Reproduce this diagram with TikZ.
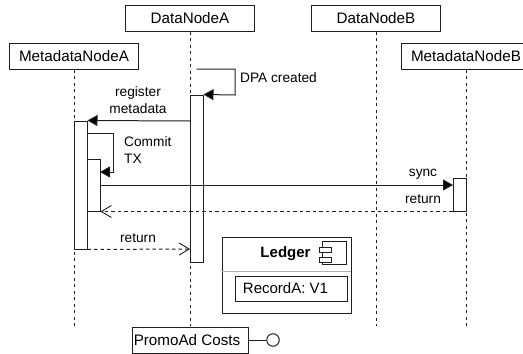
\documentclass[tikz,border=0pt]{standalone}
\usepackage{fontspec}
\setmainfont{Liberation Sans}
\usetikzlibrary{arrows.meta}
\tikzset{
 x=1pt,y=-1pt,
 line/.style={draw=black!88,line width=1pt},
 thin line/.style={draw=black!88,line width=0.8pt},
 actor/.style={line,fill=white,minimum width=129pt,minimum height=26pt,inner sep=0pt,font=\fontsize{15.2}{17}\selectfont},
 activation/.style={line,fill=white,inner sep=0pt},
 lifeline/.style={line,dash pattern=on 3pt off 3.5pt},
 msg/.style={line,-{Triangle[length=10pt,width=11pt,fill=black]}},
 ret/.style={line,dash pattern=on 3.5pt off 3pt,-{Straight Barb[length=10pt,width=12pt,line width=0.9pt]}},
 lbl/.style={inner sep=0pt,font=\fontsize{13.7}{17}\selectfont,align=center},
 lbll/.style={lbl,align=left,anchor=west},
}
\begin{document}
\begin{tikzpicture}
\useasboundingbox (0,0) rectangle (523,354);
\fill[white] (0,0) rectangle (523,354);
% actors
\node[actor] (mda) at (74,56) {MetadataNodeA};
\node[actor] (dna) at (190,18) {DataNodeA};
\node[actor] (dnb) at (376,18) {DataNodeB};
\node[actor] (mdb) at (466,56) {MetadataNodeB};
\coordinate (mdaend) at (74,326);
\coordinate (dnaend) at (190,326);
\coordinate (dnbend) at (376,326);
\coordinate (mdbend) at (466,326);
\draw[lifeline] (mda.south) -- (mdaend);
\draw[lifeline] (dna.south) -- (dnaend);
\draw[lifeline] (dnb.south) -- (dnbend);
\draw[lifeline] (mdb.south) -- (mdbend);
% activations
\node[activation,minimum width=13pt,minimum height=167pt] (acta) at (196.5,178.5) {};
\node[activation,minimum width=13pt,minimum height=128pt] (actm) at (80.5,185) {};
\node[activation,minimum width=13pt,minimum height=52pt] (actm2) at (93.5,185) {};
\node[activation,minimum width=13pt,minimum height=33pt] (actb) at (459.5,194.5) {};
% DPA self message
\coordinate (dpas) at (196.5,69);
\coordinate (dpar) at (235,69);
\coordinate (dpad) at (235,95);
\draw[msg] (dpas) -- (dpar) -- (dpad) -- (acta.north east);
\node[lbll] at (240,78) {DPA created};
% register
\coordinate (rs) at (190,121);
\draw[msg] (rs) -- (actm.north east);
\node[lbl] at (138,100.5) {register\\metadata};
% commit
\coordinate (cs) at (87,133);
\coordinate (cr) at (113,133);
\coordinate (cd) at (113,172);
\coordinate (ce) at (100,172);
\draw[msg] (cs) -- (cr) -- (cd) -- (ce);
\node[lbll] at (124,150.5) {Commit\\TX};
% sync
\coordinate (ss) at (100,185);
\coordinate (se) at (453,185);
\draw[msg] (ss) -- (se);
\node[lbl] at (423,174) {sync};
% return B
\draw[ret] (actb.south west) -- (actm2.south east);
\node[lbl] at (423,199) {return};
% return M
\coordinate (re) at (190,249);
\draw[ret] (actm.south east) -- (re);
\node[lbl] at (138,238) {return};
% ledger
\node[line,fill=white,minimum width=129pt,minimum height=76pt,inner sep=0pt] (ledger) at (286.5,275) {};
\coordinate (dl) at (222,271);
\coordinate (dr) at (351,271);
\draw[draw=black!30,line width=1pt] (dl) -- (dr);
\node[inner sep=0pt,font=\fontsize{15}{17}\selectfont\bfseries] (ltitle) at (285.5,254) {Ledger};
\draw[thin line] (322.5,241.5) rectangle (346,264.5);
\node[thin line,fill=white,minimum width=12pt,minimum height=5pt,inner sep=0pt] (c1) at (325,250) {};
\node[thin line,fill=white,minimum width=12pt,minimum height=5pt,inner sep=0pt] (c2) at (325,259.5) {};
\node[line,fill=white,minimum width=112pt,minimum height=25pt,inner sep=0pt] (rec) at (291,288.5) {};
\node[inner sep=0pt,font=\fontsize{15}{17}\selectfont] (rect) at (285.5,288.5) {RecordA: V1};
% promo
\node[line,fill=white,minimum width=116pt,minimum height=26pt,inner sep=0pt] (promo) at (190,340) {};
\node[inner sep=0pt,font=\fontsize{15.2}{17}\selectfont] (promot) at (187,340) {PromoAd Costs};
\node[line,fill=white,circle,minimum size=12.5pt,inner sep=0pt] (lol) at (273,340) {};
\draw[line] (promo) -- (lol);
\end{tikzpicture}
\end{document}
